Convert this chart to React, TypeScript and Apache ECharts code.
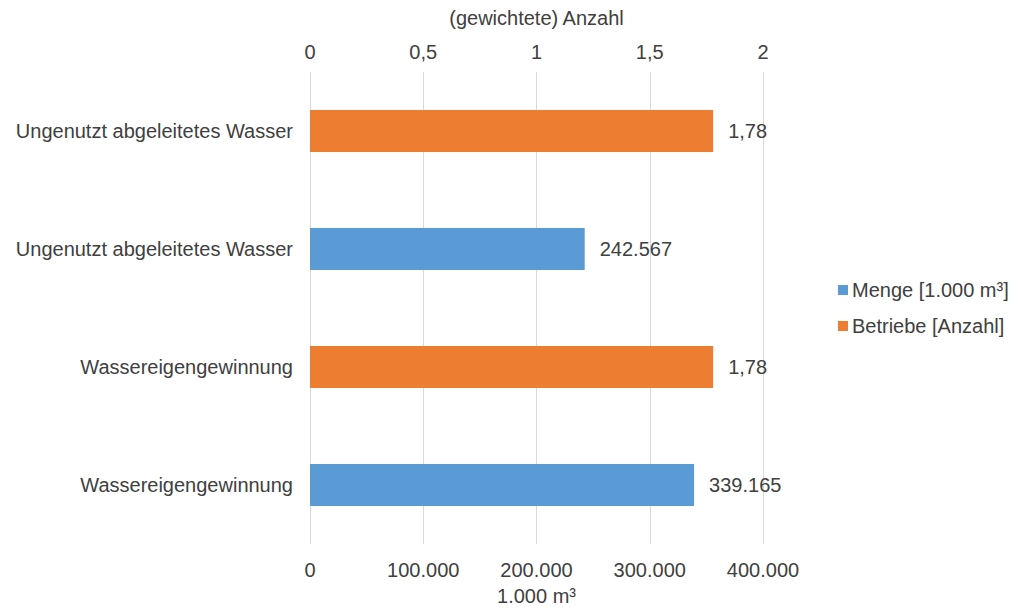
import React, { useEffect, useRef } from "react";
import * as echarts from "echarts";

const categories = [
  "Wassereigengewinnung",
  "Wassereigengewinnung",
  "Ungenutzt abgeleitetes Wasser",
  "Ungenutzt abgeleitetes Wasser",
];
const mengeValues: (number | null)[] = [339165, null, 242567, null];
const betriebeValues: (number | null)[] = [null, 1.78, null, 1.78];
const bottomTicks = [0, 100000, 200000, 300000, 400000];
const topTicks = [0, 0.5, 1, 1.5, 2];

const fmtThousands = (v: number) =>
  String(Math.round(v)).replace(/\B(?=(\d{3})+(?!\d))/g, ".");
const fmtDecimal = (v: number) => String(v).replace(".", ",");

const TEXT = "#404040";
const FONT = "'Liberation Sans', Arial, sans-serif";
const FS = 20;

export default function App() {
  const ref = useRef<HTMLDivElement>(null);
  useEffect(() => {
    const chart = echarts.init(ref.current!, undefined, { renderer: "svg" });
    chart.setOption({
      animation: false,
      textStyle: { fontFamily: FONT, color: TEXT },
      grid: {
        left: 310,
        right: 250,
        top: 72,
        bottom: 64,
        containLabel: false,
        outerBoundsMode: "none",
      },
      legend: {
        orient: "vertical",
        left: 838,
        top: 280,
        padding: 0,
        itemWidth: 10,
        itemHeight: 10,
        itemGap: 16,
        icon: "rect",
        textStyle: { fontSize: FS, color: TEXT, fontFamily: FONT, padding: [0, 0, 0, -1] },
        data: ["Menge [1.000 m³]", "Betriebe [Anzahl]"],
      },
      xAxis: [
        {
          type: "value",
          position: "bottom",
          min: bottomTicks[0],
          max: bottomTicks[bottomTicks.length - 1],
          interval: bottomTicks[1] - bottomTicks[0],
          name: "1.000 m³",
          nameLocation: "middle",
          nameGap: 42,
          nameTextStyle: { fontSize: FS, color: TEXT, fontFamily: FONT, lineHeight: 20 },
          axisLine: { show: false },
          axisTick: { show: false },
          axisLabel: {
            fontSize: FS,
            color: TEXT,
            fontFamily: FONT,
            margin: 16,
            formatter: (v: number) => fmtThousands(v),
          },
          splitLine: { show: true, lineStyle: { color: "#d9d9d9", width: 1 } },
        },
        {
          type: "value",
          position: "top",
          min: topTicks[0],
          max: topTicks[topTicks.length - 1],
          interval: topTicks[1] - topTicks[0],
          name: "(gewichtete) Anzahl",
          nameLocation: "middle",
          nameGap: 44,
          nameTextStyle: { fontSize: FS, color: TEXT, fontFamily: FONT },
          axisLine: { show: false },
          axisTick: { show: false },
          axisLabel: {
            fontSize: FS,
            color: TEXT,
            fontFamily: FONT,
            margin: 10,
            formatter: (v: number) => fmtDecimal(v),
          },
          splitLine: { show: false },
        },
      ],
      yAxis: {
        type: "category",
        data: categories.map((_, i) => String(i)),
        axisLine: { show: false },
        axisTick: { show: false },
        axisLabel: {
          fontSize: FS,
          color: TEXT,
          fontFamily: FONT,
          margin: 17,
          formatter: (v: string) => categories[Number(v)],
        },
      },
      series: [
        {
          name: "Menge [1.000 m³]",
          type: "bar",
          xAxisIndex: 0,
          data: mengeValues,
          barWidth: 42,
          barGap: "-100%",
          itemStyle: { color: "#5b9bd5" },
          label: {
            show: true,
            position: "right",
            distance: 15,
            fontSize: FS,
            color: TEXT,
            fontFamily: FONT,
            formatter: (p: any) => fmtThousands(p.value),
          },
        },
        {
          name: "Betriebe [Anzahl]",
          type: "bar",
          xAxisIndex: 1,
          data: betriebeValues,
          barWidth: 42,
          barGap: "-100%",
          itemStyle: { color: "#ed7d31" },
          label: {
            show: true,
            position: "right",
            distance: 15,
            fontSize: FS,
            color: TEXT,
            fontFamily: FONT,
            formatter: (p: any) => fmtDecimal(p.value),
          },
        },
      ],
    });
    return () => chart.dispose();
  }, []);
  return <div ref={ref} style={{ width: 1013, height: 608, position: "absolute", left: 0, top: 0 }} />;
}
